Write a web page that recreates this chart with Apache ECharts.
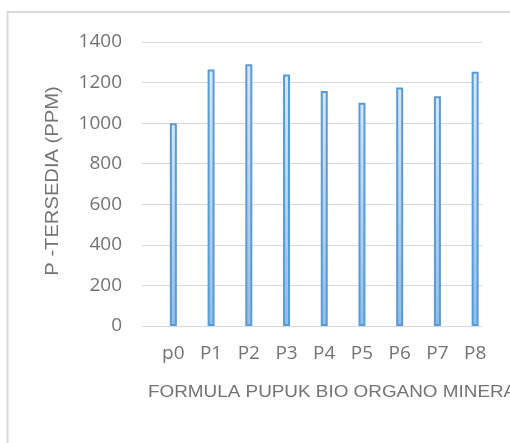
<!DOCTYPE html>
<html>
<head>
<meta charset="utf-8">
<script src="https://cdn.jsdelivr.net/npm/echarts@6/dist/echarts.min.js"></script>
<style>
  html, body { margin: 0; padding: 0; background: #ffffff; }
  #chart { width: 510px; height: 443px; }
</style>
</head>
<body>
<div id="chart"></div>
<script>
// Available P (ppm) for each bio-organo-mineral fertilizer formula
const categories = ['p0', 'P1', 'P2', 'P3', 'P4', 'P5', 'P6', 'P7', 'P8'];
const pTersedia = [1000, 1265, 1290, 1240, 1158, 1100, 1176, 1132, 1253];
const yTicks = { min: 0, max: 1400, interval: 200 };
const yTitle = 'P -TERSEDIA (PPM)';
const xTitle = 'FORMULA PUPUK BIO ORGANO MINERAL';

const chart = echarts.init(document.getElementById('chart'), null, { renderer: 'canvas' });

const labelColor = '#737373';
const labelFont = '"Open Sans", "Liberation Sans", sans-serif';

chart.setOption({
  animation: false,
  backgroundColor: '#ffffff',
  grid: [
    // value grid: gridlines and tick labels
    { left: 142, top: 42, width: 340, height: 284 },
    // category grid: bars and category labels
    { left: 154.5, top: 42, width: 339.5, height: 284 }
  ],
  xAxis: [
    { gridIndex: 0, type: 'value', show: false, min: 0, max: 1 },
    {
      gridIndex: 1, type: 'category', data: categories,
      axisLine: { show: false }, axisTick: { show: false },
      axisLabel: { color: labelColor, fontSize: 19, fontFamily: labelFont, margin: 18 }
    }
  ],
  yAxis: [
    {
      gridIndex: 0, type: 'value',
      min: yTicks.min, max: yTicks.max, interval: yTicks.interval,
      axisLine: { show: false }, axisTick: { show: false },
      axisLabel: {
        color: labelColor, fontSize: 19, fontFamily: labelFont, margin: 20,
        formatter: (v) => String(v)
      },
      splitLine: { lineStyle: { color: '#d9d9d9', width: 1 } }
    },
    {
      gridIndex: 1, type: 'value', show: false,
      min: yTicks.min, max: yTicks.max, interval: yTicks.interval,
      splitLine: { show: false }
    }
  ],
  series: [{
    type: 'bar',
    xAxisIndex: 1,
    yAxisIndex: 1,
    data: pTersedia,
    barWidth: 7,
    itemStyle: {
      color: new echarts.graphic.LinearGradient(0, 0, 0, 1, [
        { offset: 0, color: '#d6e8f9' },
        { offset: 1, color: '#8dbdec' }
      ]),
      borderColor: '#5b9bd5',
      borderWidth: 2
    }
  }],
  graphic: [
    {
      type: 'rect',
      silent: true,
      shape: { x: 7.5, y: 12, width: 520, height: 450 },
      style: { fill: null, stroke: '#d9d9d9', lineWidth: 2 }
    },
    {
      type: 'text',
      silent: true,
      x: 53, y: 181,
      rotation: Math.PI / 2,
      scaleX: 1.12,
      style: {
        text: yTitle,
        fill: labelColor,
        font: '18px "Liberation Sans", sans-serif',
        align: 'center',
        verticalAlign: 'middle'
      }
    },
    {
      type: 'text',
      silent: true,
      x: 148, y: 393,
      scaleX: 1.18,
      style: {
        text: xTitle,
        fill: labelColor,
        font: '16px "Liberation Sans", sans-serif',
        align: 'left',
        verticalAlign: 'middle'
      }
    }
  ]
});
</script>
</body>
</html>
